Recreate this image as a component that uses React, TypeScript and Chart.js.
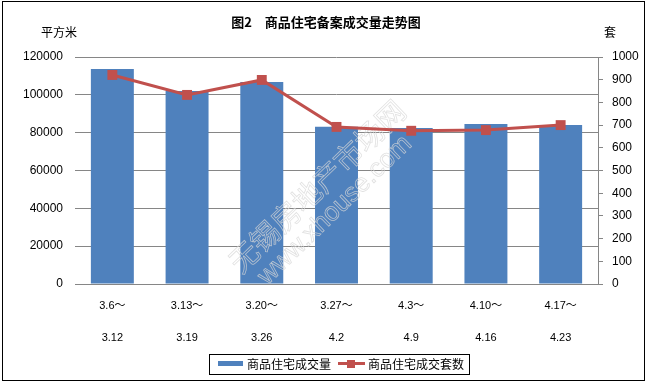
import { useEffect, useRef } from 'react';
import { Chart, registerables } from 'chart.js';

Chart.register(...registerables);

const titleText = '图2　商品住宅备案成交量走势图';
const leftAxisTitle = '平方米';
const rightAxisTitle = '套';
const periodStarts = ['3.6～', '3.13～', '3.20～', '3.27～', '4.3～', '4.10～', '4.17～'];
const periodEnds = ['3.12', '3.19', '3.26', '4.2', '4.9', '4.16', '4.23'];
const areaSeriesName = '商品住宅成交量';
const unitSeriesName = '商品住宅成交套数';
const areaValues = [113700, 102000, 106800, 83100, 82500, 84600, 84100];
const unitValues = [921, 833, 899, 692, 675, 678, 700];
const leftMax = 120000;
const leftStep = 20000;
const rightMax = 1000;
const rightStep = 100;
const watermarkCn = '无锡房地产市场网';
const watermarkUrl = 'www.xhouse.com';

const FONT = '"Liberation Sans", "Noto Sans CJK SC", sans-serif';
const CJK = '"Noto Sans CJK SC", "Liberation Sans", sans-serif';
const BLUE = '#4F81BD';
const RED = '#C0504D';
const GRID = '#868686';

const decorPlugin = {
  id: 'decor',
  beforeDraw(chart: any) {
    const ctx = chart.ctx;
    ctx.save();
    ctx.fillStyle = '#ffffff';
    ctx.fillRect(0, 0, chart.width, chart.height);
    ctx.restore();
  },
  beforeDatasetDraw(chart: any, args: any) {
    if (args.meta.type !== 'line') return;
    const ctx = chart.ctx;
    ctx.save();
    ctx.strokeStyle = 'rgba(215,215,215,0.75)';
    ctx.lineWidth = 0.8;
    ctx.textAlign = 'center';
    ctx.textBaseline = 'middle';
    ctx.translate(317, 186);
    ctx.rotate((-44 * Math.PI) / 180);
    ctx.font = `29px ${CJK}`;
    ctx.strokeText(watermarkCn, 0, 0);
    ctx.font = `26px ${FONT}`;
    ctx.strokeText(watermarkUrl, -4, 30);
    ctx.restore();
  },
  afterDraw(chart: any) {
    const ctx = chart.ctx;
    ctx.save();
    // title
    ctx.fillStyle = '#000';
    ctx.textAlign = 'center';
    ctx.textBaseline = 'middle';
    ctx.font = `bold 13px ${CJK}`;
    ctx.fillText(titleText, 326, 22);
    // axis titles
    ctx.font = `12px ${CJK}`;
    ctx.fillText(leftAxisTitle, 59, 32);
    ctx.fillText(rightAxisTitle, 610, 32);
    // legend
    ctx.strokeStyle = '#000';
    ctx.lineWidth = 1;
    ctx.strokeRect(209.5, 354.5, 260, 20);
    ctx.fillStyle = BLUE;
    ctx.fillRect(218, 361, 25, 5);
    ctx.fillStyle = '#000';
    ctx.textAlign = 'left';
    ctx.font = `12px ${CJK}`;
    ctx.fillText(areaSeriesName, 247, 364);
    ctx.strokeStyle = RED;
    ctx.lineWidth = 3;
    ctx.beginPath();
    ctx.moveTo(338, 363.5);
    ctx.lineTo(365, 363.5);
    ctx.stroke();
    ctx.fillStyle = RED;
    ctx.fillRect(347, 360, 8, 8);
    ctx.fillStyle = '#000';
    ctx.fillText(unitSeriesName, 368, 364);
    // outer frame
    ctx.strokeStyle = '#000';
    ctx.lineWidth = 1;
    ctx.strokeRect(2.5, 1.5, 642, 379);
    ctx.restore();
  },
};

export default function App() {
  const ref = useRef<HTMLCanvasElement | null>(null);

  useEffect(() => {
    document.body.style.margin = '0';
    const canvas = ref.current;
    if (!canvas) return;
    const labels = periodStarts.map((s, i) => [s, '', periodEnds[i]]);
    const chart = new Chart(canvas, {
      type: 'bar',
      data: {
        labels,
        datasets: [
          {
            type: 'line',
            label: unitSeriesName,
            data: unitValues,
            yAxisID: 'y1',
            order: 0,
            borderColor: RED,
            backgroundColor: RED,
            borderWidth: 3,
            pointStyle: 'rect',
            pointRadius: 7,
            pointBorderWidth: 0,
            pointBackgroundColor: RED,
            tension: 0,
          } as any,
          {
            type: 'bar',
            label: areaSeriesName,
            data: areaValues,
            yAxisID: 'y',
            order: 1,
            backgroundColor: BLUE,
            categoryPercentage: 1,
            barPercentage: 0.575,
          } as any,
        ],
      },
      options: {
        responsive: false,
        animation: false,
        devicePixelRatio: 1,
        layout: { padding: { top: 57, left: 0, right: 0, bottom: 0 } },
        plugins: {
          legend: { display: false },
          tooltip: { enabled: false },
          title: { display: false },
        },
        scales: {
          x: {
            grid: { display: false, drawTicks: false },
            border: { display: true, color: GRID },
            ticks: {
              padding: 14,
              color: '#000',
              maxRotation: 0,
              autoSkip: false,
              font: { family: FONT, size: 11, lineHeight: 16 / 11 },
            },
            afterFit(s: any) {
              s.height = 101;
            },
          },
          y: {
            position: 'left',
            min: 0,
            max: leftMax,
            grid: { color: GRID, drawTicks: false },
            border: { display: false },
            ticks: {
              stepSize: leftStep,
              padding: 12,
              color: '#000',
              font: { family: FONT, size: 12 },
              callback: (v: any) => String(v),
            },
            afterFit(s: any) {
              s.width = 75;
            },
          },
          y1: {
            position: 'right',
            min: 0,
            max: rightMax,
            grid: { drawOnChartArea: false, drawTicks: true, tickLength: 5, color: GRID },
            border: { display: true, color: GRID },
            ticks: {
              stepSize: rightStep,
              padding: 9,
              color: '#000',
              font: { family: FONT, size: 12 },
              callback: (v: any) => String(v),
            },
            afterFit(s: any) {
              s.width = 50;
            },
          },
        },
      } as any,
      plugins: [decorPlugin],
    });
    return () => chart.destroy();
  }, []);

  return (
    <div style={{ width: 648, height: 385 }}>
      <canvas ref={ref} width={648} height={385} style={{ display: 'block', width: 648, height: 385 }} />
    </div>
  );
}
